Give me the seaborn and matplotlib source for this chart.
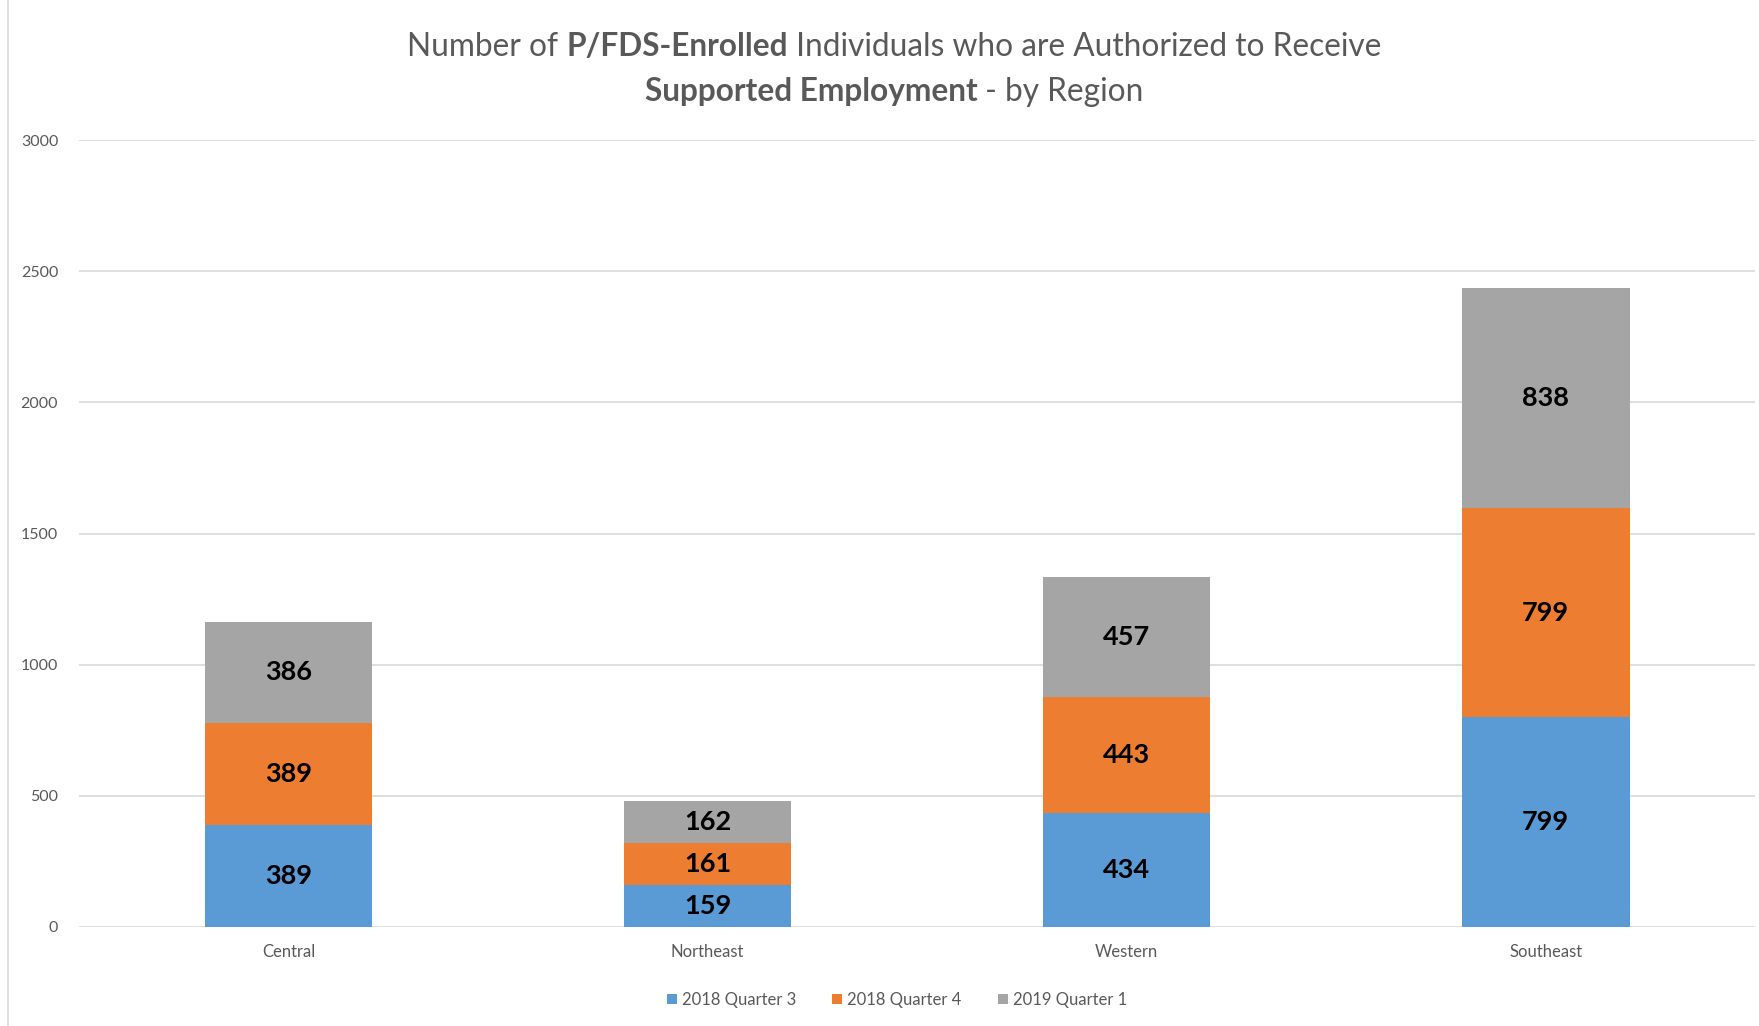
import numpy as np
import pandas as pd
import seaborn as sns
import matplotlib.pyplot as plt
from matplotlib.lines import Line2D
from matplotlib.patches import Patch

regions = ["Central", "Northeast", "Western", "Southeast"]
series = ["2018 Quarter 3", "2018 Quarter 4", "2019 Quarter 1"]
q3_2018 = [389, 159, 434, 799]
q4_2018 = [389, 161, 443, 799]
q1_2019 = [386, 162, 457, 838]
colors = ["#5B9BD5", "#ED7D31", "#A5A5A5"]

sns.set_style("white")
plt.rcParams["font.family"] = ["Lato", "DejaVu Sans"]
text_grey = "#595959"

df = pd.DataFrame({"Region": regions, "q3": q3_2018, "q4": q4_2018, "q1": q1_2019})
df["c1"] = df["q3"]
df["c2"] = df["q3"] + df["q4"]
df["c3"] = df["c2"] + df["q1"]

fig = plt.figure(figsize=(17.59, 10.26), dpi=100)
ax = fig.add_axes([0.0449, 0.0965, 0.953, 0.767])

# stacked bars drawn as overlapping cumulative totals, tallest first
for col, c in zip(["c3", "c2", "c1"], colors[::-1]):
    sns.barplot(data=df, x="Region", y=col, color=c, width=0.4, ax=ax,
                saturation=1, linewidth=0, zorder=3)

ax.set_ylim(0, 3000)
ax.set_yticks(range(0, 3001, 500))
ax.yaxis.grid(True, color="#D9D9D9", linewidth=1.2, zorder=0)
ax.set_axisbelow(True)
for s in ax.spines.values():
    s.set_visible(False)
ax.set_xlabel("")
ax.set_ylabel("")
ax.tick_params(axis="y", length=0, pad=15, labelsize=11.5, labelcolor=text_grey)
ax.tick_params(axis="x", length=0, pad=12, labelsize=12, labelcolor=text_grey)

# segment labels
for i in range(len(regions)):
    bottoms = [0, df["c1"][i], df["c2"][i]]
    for val, b in zip([q3_2018[i], q4_2018[i], q1_2019[i]], bottoms):
        ax.text(i, b + val / 2, str(val), ha="center", va="center",
                fontsize=19.5, fontweight="bold", color="black", zorder=5)

# title with mixed weights
def mixed_line(parts, y):
    r = fig.canvas.get_renderer()
    texts = []
    for s, w in parts:
        t = fig.text(0, y, s, fontsize=22.8, fontweight=w, color=text_grey,
                     ha="left", va="center")
        texts.append(t)
    widths = [t.get_window_extent(r).width for t in texts]
    total = sum(widths)
    x = fig.bbox.width * 0.5083 - total / 2
    for t, w in zip(texts, widths):
        t.set_x(x / fig.bbox.width)
        x += w

mixed_line([("Number of ", "normal"), ("P/FDS-Enrolled", "bold"),
            (" Individuals who are Authorized to Receive", "normal")], 1 - 47 / 1026)
mixed_line([("Supported Employment", "bold"), (" - by Region", "normal")], 1 - 92 / 1026)

handles = [Patch(facecolor=c, edgecolor="none") for c in colors]
fig.legend(handles, series, loc="center", bbox_to_anchor=(0.51, 1 - 1000 / 1026),
           ncol=3, frameon=False, fontsize=12, labelcolor=text_grey,
           handlelength=0.6, handleheight=0.6, handletextpad=0.3, columnspacing=2.2)

fig.add_artist(Line2D([8 / 1759, 8 / 1759], [0, 1], color="#D9D9D9", linewidth=1.2))

fig.savefig("out.png", dpi=100)
